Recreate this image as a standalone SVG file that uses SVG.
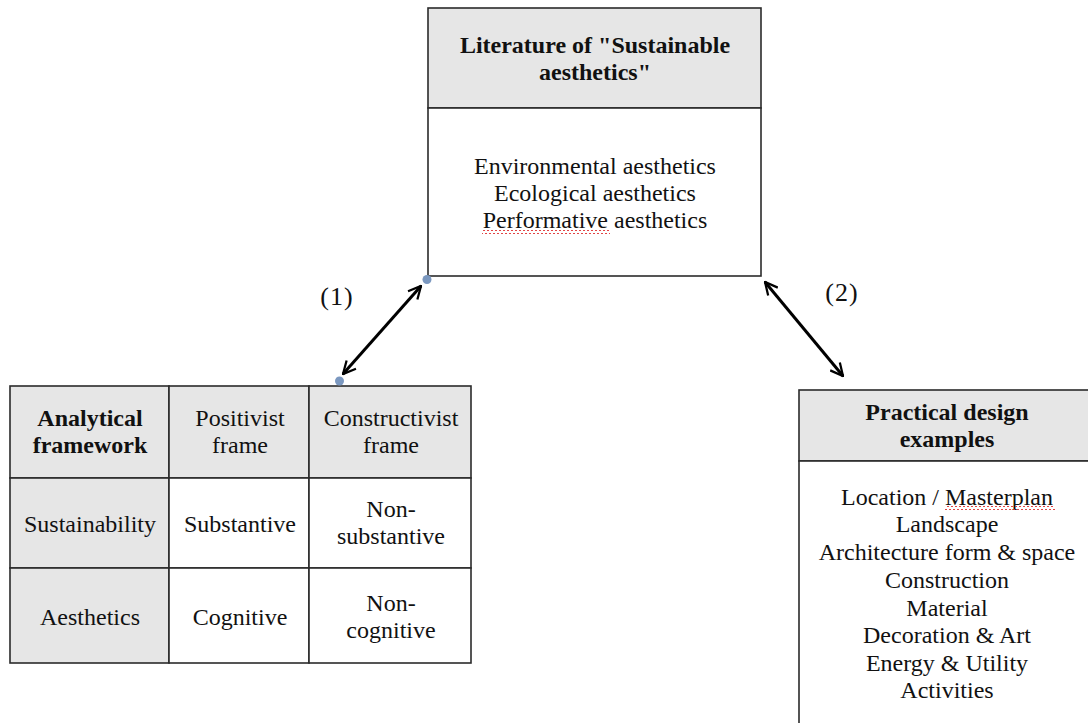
<svg xmlns="http://www.w3.org/2000/svg" width="1088" height="723" viewBox="0 0 1088 723">
  <style>
    .box { stroke: #2b2b2b; stroke-width: 1.6; }
    .head { fill: #e6e6e6; }
    .plain { fill: #ffffff; }
    text { font-family: "Liberation Serif", "Times New Roman", serif; font-size: 24px; fill: #111; text-anchor: middle; }
    .b { font-weight: bold; }
    .lbl { font-size: 26px; letter-spacing: 1px; }
    .link { stroke: #000; stroke-width: 3; fill: none; marker-start: url(#tip); marker-end: url(#tip); }
    .anchor { fill: #7b98c0; }
  </style>
  <defs>
    <marker id="tip" viewBox="0 0 12 12" refX="11" refY="6" markerWidth="5" markerHeight="5" orient="auto-start-reverse" markerUnits="strokeWidth">
      <path d="M1,1 L11,6 L1,11" fill="none" stroke="#000" stroke-width="1.8" stroke-linejoin="miter"/>
    </marker>
    <pattern id="squiggle" width="4" height="4" patternUnits="userSpaceOnUse">
      <path d="M0,3 L2,1 L4,3" fill="none" stroke="#e03030" stroke-width="0.9"/>
    </pattern>
  </defs>

  <rect width="1088" height="723" fill="#ffffff"/>

  <!-- Literature box -->
  <g id="literature">
    <rect class="box head" x="428" y="8" width="333" height="100"/>
    <rect class="box plain" x="428" y="108" width="333" height="168"/>
    <text class="b" x="595" y="53">Literature of "Sustainable</text>
    <text class="b" x="595" y="80">aesthetics"</text>
    <text x="595" y="174">Environmental aesthetics</text>
    <text x="595" y="201">Ecological aesthetics</text>
    <text x="595" y="228">Performative aesthetics</text>
    <rect x="482" y="230" width="128" height="4" fill="url(#squiggle)"/>
  </g>

  <!-- Analytical framework table -->
  <g id="framework">
    <rect class="box head" x="10" y="386" width="159" height="92"/>
    <rect class="box head" x="169" y="386" width="140" height="92"/>
    <rect class="box head" x="309" y="386" width="162" height="92"/>
    <rect class="box head" x="10" y="478" width="159" height="90"/>
    <rect class="box plain" x="169" y="478" width="140" height="90"/>
    <rect class="box plain" x="309" y="478" width="162" height="90"/>
    <rect class="box head" x="10" y="568" width="159" height="95"/>
    <rect class="box plain" x="169" y="568" width="140" height="95"/>
    <rect class="box plain" x="309" y="568" width="162" height="95"/>
    <text class="b" x="90" y="426">Analytical</text>
    <text class="b" x="90" y="453">framework</text>
    <text x="240" y="426">Positivist</text>
    <text x="240" y="453">frame</text>
    <text x="391" y="426">Constructivist</text>
    <text x="391" y="453">frame</text>
    <text x="90" y="532">Sustainability</text>
    <text x="240" y="532">Substantive</text>
    <text x="391" y="517">Non-</text>
    <text x="391" y="544">substantive</text>
    <text x="90" y="625">Aesthetics</text>
    <text x="240" y="625">Cognitive</text>
    <text x="391" y="611">Non-</text>
    <text x="391" y="638">cognitive</text>
  </g>

  <!-- Practical design examples box -->
  <g id="examples">
    <rect class="box head" x="799" y="390" width="296" height="71"/>
    <rect class="box plain" x="799" y="461" width="296" height="280"/>
    <text class="b" x="947" y="420">Practical design</text>
    <text class="b" x="947" y="447">examples</text>
    <text x="947" y="505">Location / Masterplan</text>
    <text x="947" y="532">Landscape</text>
    <text x="947" y="560">Architecture form &amp; space</text>
    <text x="947" y="588">Construction</text>
    <text x="947" y="616">Material</text>
    <text x="947" y="643">Decoration &amp; Art</text>
    <text x="947" y="671">Energy &amp; Utility</text>
    <text x="947" y="698">Activities</text>
    <rect x="945" y="506" width="110" height="4" fill="url(#squiggle)"/>
  </g>

  <!-- Connectors -->
  <g id="connectors">
    <line class="link" x1="421" y1="286" x2="343" y2="374"/>
    <circle class="anchor" cx="427" cy="279.5" r="4.5"/>
    <circle class="anchor" cx="339.5" cy="381" r="4.5"/>
    <line class="link" x1="765" y1="282" x2="843" y2="376"/>
    <text class="lbl" x="337" y="305">(1)</text>
    <text class="lbl" x="842" y="301">(2)</text>
  </g>
</svg>
